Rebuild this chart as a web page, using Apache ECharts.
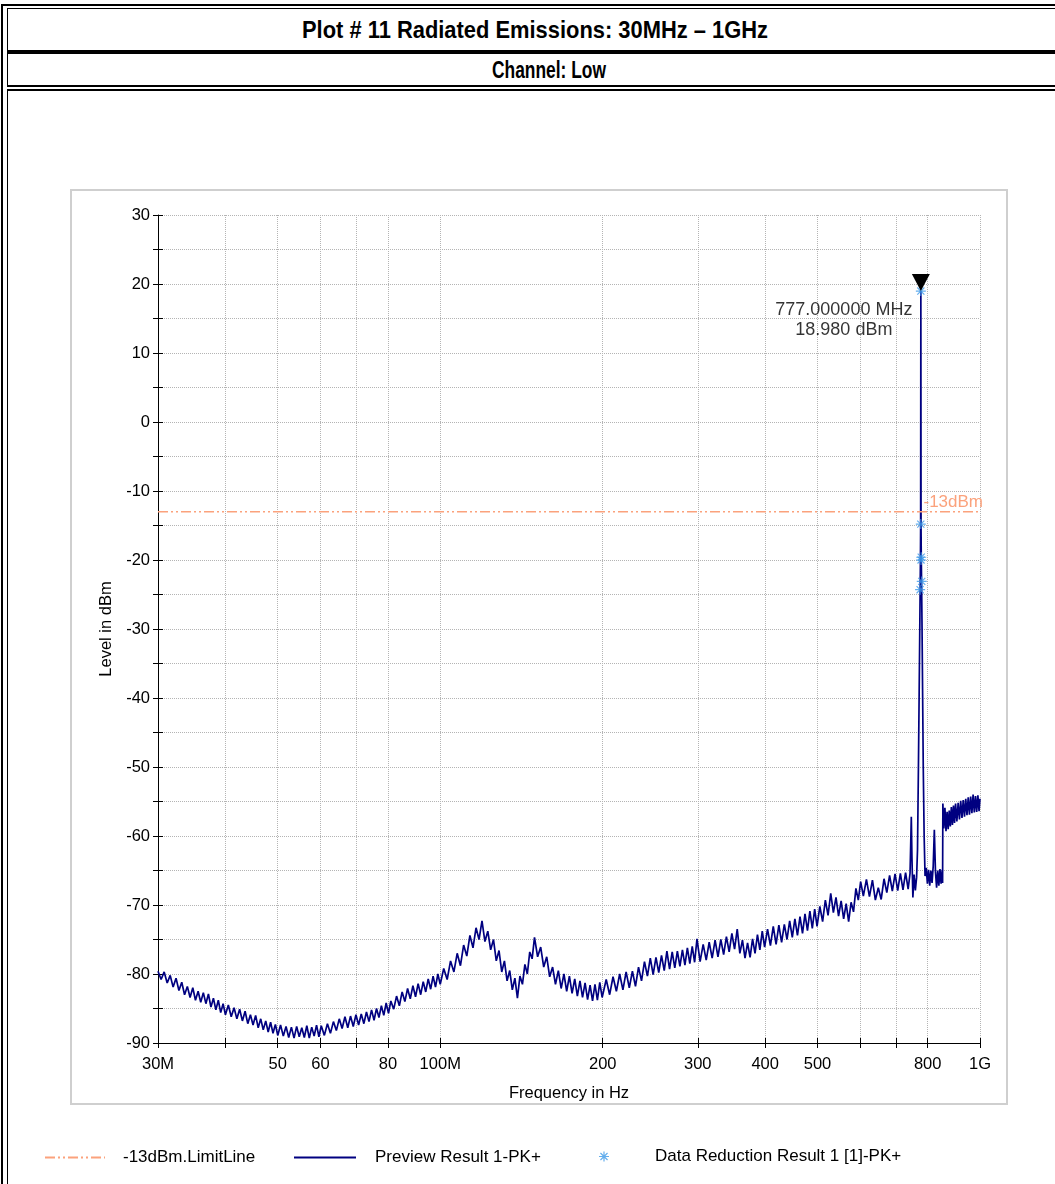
<!DOCTYPE html>
<html>
<head>
<meta charset="utf-8">
<script src="https://cdn.jsdelivr.net/npm/echarts@6/dist/echarts.min.js"></script>
<style>
  html, body { margin: 0; padding: 0; background: #fff; }
  #page { position: relative; width: 1055px; height: 1184px; overflow: hidden; background: #fff; font-family: "Liberation Sans", Arial, sans-serif; }
  .ln { position: absolute; background: #000; }
  .hdr { position: absolute; white-space: nowrap; font-family: "Liberation Sans Narrow", "Arial Narrow", "Liberation Sans", Arial, sans-serif; font-weight: bold; color: #000; font-size: 24px; line-height: 1; transform-origin: 0 50%; }
  #chart { position: absolute; left: 0; top: 0; width: 1055px; height: 1184px; }
</style>
</head>
<body>
<div id="page">
  <div class="ln" style="left:1px;top:4px;width:2px;height:1180px"></div>
  <div class="ln" style="left:1px;top:4px;width:1054px;height:2px"></div>
  <div class="ln" style="left:7px;top:8px;width:1px;height:77px"></div>
  <div class="ln" style="left:7px;top:8px;width:1048px;height:1px"></div>
  <div class="ln" style="left:7px;top:50px;width:1048px;height:4px"></div>
  <div class="ln" style="left:7px;top:85px;width:1048px;height:2px"></div>
  <div class="ln" style="left:7px;top:89px;width:1048px;height:2px"></div>
  <div class="ln" style="left:7px;top:89px;width:1px;height:1095px"></div>
  <span class="hdr" id="t1">Plot # 11 Radiated Emissions: 30MHz – 1GHz</span>
  <span class="hdr" id="t2">Channel: Low</span>
  <div id="chart"></div>
</div>
<script>
// ---------- header text ----------
const titleText = 'Plot # 11 Radiated Emissions: 30MHz – 1GHz';
const channelText = 'Channel: Low';
function placeHeader(id, left, right, centerY) {
  const el = document.getElementById(id);
  const r = el.getBoundingClientRect();
  const s = (right - left) / r.width;
  el.style.left = left + 'px';
  el.style.top = (centerY - r.height / 2) + 'px';
  el.style.transform = 'scaleX(' + s + ')';
}
placeHeader('t1', 302, 768, 30);
placeHeader('t2', 492, 606, 70);

// ---------- data ----------
// Preview Result 1-PK+ trace, [frequency MHz, level dBm]
const previewLow = [
  [30.0,-79.6],[30.4,-80.8],[30.8,-79.7],[31.2,-81.3],[31.6,-80.2],[32.0,-81.9],[32.4,-80.6],[32.8,-82.4],[33.2,-81.2],[33.6,-83.0],
  [34.0,-81.8],[34.4,-83.4],[34.8,-82.0],[35.2,-83.8],[35.6,-82.5],[36.0,-84.1],[36.4,-82.7],[36.8,-84.3],[37.2,-82.9],[37.6,-84.8],
  [38.0,-83.5],[38.4,-85.2],[38.8,-83.8],[39.2,-85.6],[39.6,-84.3],[40.0,-85.9],
  [40.5,-84.5],[41.0,-86.2],[41.5,-84.9],[42.0,-86.5],[42.5,-85.1],[43.0,-86.8],[43.5,-85.4],[44.0,-87.2],[44.5,-85.9],[45.0,-87.4],
  [45.5,-86.0],[46.0,-87.8],[46.5,-86.5],[47.0,-88.1],[47.5,-86.8],[48.0,-88.4],[48.5,-87.0],[49.0,-88.6],[49.5,-87.3],[50.0,-88.9],
  [50.6,-87.4],[51.2,-89.0],[51.8,-87.6],[52.4,-89.2],[53.0,-87.7],[53.6,-89.3],[54.2,-87.6],[54.8,-89.1],[55.4,-87.8],[56.0,-89.2],
  [56.6,-87.5],[57.2,-89.3],[57.8,-87.7],[58.4,-89.0],[59.0,-87.4],[59.6,-89.1],[60.2,-87.5],
  [61.0,-88.9],[61.8,-87.2],[62.6,-88.6],[63.4,-86.9],[64.2,-88.2],[65.0,-86.5],[65.8,-87.9],[66.6,-86.2],[67.4,-87.8],[68.2,-86.1],
  [69.0,-87.6],[69.8,-85.9],[70.6,-87.4],[71.4,-85.8],[72.2,-87.2],[73.0,-85.5],[73.8,-86.9],[74.6,-85.2],[75.4,-86.7],[76.2,-85.0],
  [77.0,-86.3],[77.8,-84.6],[78.6,-86.0],[79.4,-84.2],[80.2,-85.7],
  [81,-83.9],[82,-85.1],[83,-83.2],[84,-84.6],[85,-82.6],[86,-84.0],[87,-82.1],[88,-83.6],[89,-81.7],[90,-83.3],
  [91,-81.4],[92,-83.0],[93,-81.1],[94,-82.6],[95,-80.7],[96,-82.2],[97,-80.3],[98,-81.9],[99,-80.0],[100,-81.5]
];
const previewMid = [
  [101.5,-79.2],[103.0,-80.8],[104.5,-78.1],[106.0,-79.7],[107.5,-77.0],[109.0,-78.8],[110.5,-75.8],[112.0,-77.4],[113.5,-74.4],[115.0,-76.2],
  [116.5,-73.3],[118.0,-75.0],[119.5,-72.3],[121.0,-75.3],[122.5,-73.8],[124.0,-76.5],[125.5,-75.0],[127.0,-78.1],[128.5,-76.6],[130.0,-79.7],
  [131.5,-78.1],[133.0,-81.0],[134.5,-79.5],[136.0,-82.3],[137.5,-80.6],[139.0,-83.5],[140.5,-80.3],[142.0,-81.5],[143.5,-78.6],[145.0,-80.0],
  [146.5,-76.8],[148.0,-77.8],[149.5,-74.7],
  [151.5,-77.5],[153.5,-76.1],[155.5,-79.0],[157.5,-77.5],[159.5,-80.4],[161.5,-79.0],[163.5,-81.5],[165.5,-79.5],[167.5,-82.1],[169.5,-80.0],
  [171.5,-82.5],[173.5,-80.3],[175.5,-82.8],[177.5,-80.7],[179.5,-83.2],[181.5,-81.0],[183.5,-83.4],[185.5,-81.3],[187.5,-83.7],[189.5,-81.6],
  [191.5,-83.9],[193.5,-81.5],[195.5,-83.8],[197.5,-81.2],[199.5,-83.4],
  [203,-80.8],[206,-83.0],[209,-80.4],[212,-82.5],[215,-80.0],[218,-82.3],[221,-79.7],[224,-82.0],[227,-79.6],[230,-81.8],
  [233,-79.0],[236,-81.0],[239,-78.2],[242,-80.3],[245,-77.7],[248,-80.1],[251,-77.6],[254,-79.8],[257,-77.3],[260,-79.5],
  [263,-76.7],[266,-79.3],[269,-76.8],[272,-79.1],[275,-76.7],[278,-78.9],[281,-76.5],[284,-78.7],[287,-76.2],[290,-78.5],
  [293,-76.0],[296,-78.3],[299,-74.9]
];
const previewHigh = [
  [303,-78.2],[307,-75.7],[311,-78.0],[315,-75.4],[319,-77.7],[323,-75.1],[327,-77.5],[331,-75.0],[335,-77.2],[339,-74.6],
  [343,-76.8],[347,-74.1],[351,-76.4],[355,-73.5],[359,-77.0],[363,-75.1],[367,-77.7],[371,-75.5],[375,-77.6],[379,-74.9],
  [383,-77.0],[387,-74.3],[391,-76.5],[395,-73.8],[399,-76.1],
  [404,-73.5],[409,-75.9],[414,-73.1],[419,-75.7],[424,-72.9],[429,-75.4],[434,-72.8],[439,-75.0],[444,-72.3],[449,-74.7],
  [454,-72.0],[459,-74.4],[464,-71.7],[469,-74.1],[474,-71.3],[479,-73.7],[484,-70.9],[489,-73.4],[494,-70.6],[499,-73.1],
  [505,-70.2],[511,-72.4],[517,-69.3],[523,-71.5],[529,-68.3],[535,-71.1],[541,-68.9],[547,-71.6],[553,-69.4],[559,-72.0],
  [565,-69.8],[571,-72.4],[577,-69.6],[583,-71.0],[589,-67.6],[595,-69.3],[601,-66.6],
  [608,-68.7],[616,-66.3],[624,-68.8],[632,-66.4],[640,-69.3],[648,-67.5],[656,-69.2],[664,-66.2],[672,-68.2],[680,-65.7],
  [688,-68.0],[696,-65.5],[704,-67.9],[712,-65.4],[720,-67.8],[728,-65.3],[736,-67.7],[742,-65.4],[746,-57.2],[748,-63.0],
  [751,-68.9],[755,-65.6],[759,-67.9],[763,-66.0],
  [766,-62.0],[769,-50.0],[771,-41.0],[773,-32.0],[774.5,-25.0],[775.5,-20.5],[776.3,-15.0],[777.0,18.98],[777.7,-15.5],[778.5,-20.0],
  [779.5,-23.5],[781,-30.0],[783,-40.0],[785,-50.0],[788,-60.0],[791,-65.8],
  [795,-64.6],[799,-66.9],[803,-64.9],[807,-67.2],[811,-65.0],[815,-66.8],[819,-64.4],[823,-59.1],[827,-65.2],[831,-67.5],
  [835,-65.0],[839,-67.2],[843,-64.8],[847,-66.9],[851,-64.9],[852.5,-66.8],[853.5,-55.3],
  [857,-58.9],[861,-55.9],[865,-59.3],[869,-56.5],[873,-59.0],[877,-56.3],[881,-58.6],[885,-55.8],[889,-58.4],[893,-55.6],
  [897,-58.1],[901,-55.3],[906,-57.9],[911,-55.2],[916,-57.6],[921,-54.9],[926,-57.4],[931,-54.8],[936,-57.2],[941,-54.6],
  [946,-57.0],[951,-54.4],[956,-56.9],[961,-54.3],[966,-56.7],[971,-54.0],[976,-56.6],[981,-54.2],[986,-56.5],[991,-54.1],
  [996,-56.4],[1000,-54.6]
];
// Data Reduction Result 1 [1]-PK+ points
const reductionFreqMHz = [777.0, 776.8, 778.2, 777.6, 780.0, 774.5];
const reductionLevelDbm = [18.98, -14.8, -19.6, -20.0, -23.1, -24.3];
// Marker
const peakFreqMHz = 777.0;
const peakLevelDbm = 18.98;
// Limit line
const limitLevelDbm = -13;
const limitLabel = '-13dBm';
// Axes
const xMin = 30, xMax = 1000;
const yMin = -90, yMax = 30, yStep = 5;
const xTickValues = [30, 40, 50, 60, 70, 80, 100, 200, 300, 400, 500, 600, 700, 800, 1000];
const xLabelValues = [30, 50, 60, 80, 100, 200, 300, 400, 500, 800, 1000];
const xLabelText = { 30: '30M', 100: '100M', 1000: '1G' };

// ---------- chart ----------
const previewData = previewLow.concat(previewMid, previewHigh);
const reductionData = reductionFreqMHz.map((f, i) => [f, reductionLevelDbm[i]]);
const STAR = 'path://M-0.6,-5L0.6,-5L0.6,5L-0.6,5ZM-5,-0.6L5,-0.6L5,0.6L-5,0.6ZM3.96,3.12L3.12,3.96L-3.96,-3.12L-3.12,-3.96ZM3.12,-3.96L3.96,-3.12L-3.12,3.96L-3.96,3.12Z';
const FONT = '"Liberation Sans", Arial, sans-serif';
const NAVY = '#000080';
const ORANGE = '#FBA27C';
const STARBLUE = '#3d9ae8';
const GRIDC = '#b4b4b4';

const chart = echarts.init(document.getElementById('chart'), null, { renderer: 'canvas' });
const names = ['-13dBm.LimitLine', 'Preview Result 1-PK+', 'Data Reduction Result 1 [1]-PK+'];

const peakIndex = reductionFreqMHz.indexOf(peakFreqMHz);
const reductionItems = reductionData.map((d, i) => {
  if (i !== peakIndex) return d;
  return {
    value: d,
    label: {
      show: true,
      position: [-72, 34],
      align: 'center',
      verticalAlign: 'middle',
      color: '#000',
      fontSize: 18,
      lineHeight: 20,
      fontFamily: FONT,
      formatter: () => peakFreqMHz.toFixed(6) + ' MHz\n' + peakLevelDbm.toFixed(3) + ' dBm'
    }
  };
});

const legendText = { color: '#000', fontSize: 17, fontFamily: FONT };

const option = {
  animation: false,
  backgroundColor: 'transparent',
  textStyle: { fontFamily: FONT },
  graphic: [{
    type: 'rect', z: -10, silent: true,
    shape: { x: 71, y: 190, width: 936, height: 914 },
    style: { fill: 'none', stroke: '#cfcfcf', lineWidth: 2 }
  }],
  grid: { left: 158, top: 215, width: 822, height: 828, containLabel: false },
  legend: [
    { data: [names[0]], left: 44, top: 1149, padding: 0, itemWidth: 60, itemHeight: 14,
      itemStyle: { opacity: 0 },
      textStyle: Object.assign({ padding: [0, 0, 0, 13] }, legendText), selectedMode: false },
    { data: [names[1]], left: 293, top: 1149, padding: 0, itemWidth: 62, itemHeight: 14,
      itemStyle: { opacity: 0 },
      textStyle: Object.assign({ padding: [0, 0, 0, 14] }, legendText), selectedMode: false },
    { data: [{ name: names[2], icon: STAR }], left: 599, top: 1148, padding: 0, itemWidth: 10, itemHeight: 10,
      textStyle: Object.assign({ padding: [0, 0, 0, 41] }, legendText), selectedMode: false }
  ],
  xAxis: [{
    type: 'log', logBase: 10, min: xMin, max: xMax,
    name: 'Frequency in Hz', nameLocation: 'middle', nameGap: 42,
    nameTextStyle: { color: '#000', fontSize: 16.5, fontFamily: FONT },
    axisLine: { show: true, onZero: false, lineStyle: { color: '#000', width: 1 } },
    axisTick: { show: true, inside: false, length: 5, lineStyle: { color: '#000' }, customValues: xTickValues },
    axisLabel: { show: true, color: '#000', fontSize: 16.5, margin: 13, fontFamily: FONT, customValues: xLabelValues,
      formatter: v => { const r = Math.round(v); return xLabelText[r] || String(r); } },
    splitLine: { show: true, lineStyle: { color: GRIDC, type: 'dotted', width: 1 } },
    minorTick: { show: false }, minorSplitLine: { show: false }
  }, {
    type: 'log', logBase: 10, min: xMin, max: xMax, position: 'bottom', offset: 0,
    axisLine: { show: false, onZero: false },
    axisTick: { show: true, inside: true, length: 5, lineStyle: { color: '#000' }, customValues: xTickValues },
    axisLabel: { show: false },
    splitLine: { show: false }
  }],
  yAxis: [{
    type: 'value', min: yMin, max: yMax, interval: yStep,
    name: 'Level in dBm', nameLocation: 'middle', nameGap: 39, nameRotate: 90,
    nameTextStyle: { color: '#000', fontSize: 16.5, fontFamily: FONT },
    axisLine: { show: true, onZero: false, lineStyle: { color: '#000', width: 1 } },
    axisTick: { show: true, inside: false, length: 5, lineStyle: { color: '#000' } },
    axisLabel: { color: '#000', fontSize: 16.5, margin: 8, fontFamily: FONT,
      formatter: v => (v % 10 === 0 ? String(v) : '') },
    splitLine: { show: true, lineStyle: { color: GRIDC, type: 'dotted', width: 1 } }
  }, {
    type: 'value', min: yMin, max: yMax, interval: yStep, position: 'left', offset: 0,
    axisLine: { show: false, onZero: false },
    axisTick: { show: true, inside: true, length: 5, lineStyle: { color: '#000' } },
    axisLabel: { show: false },
    splitLine: { show: false }
  }],
  series: [
    {
      name: names[0], type: 'line', xAxisIndex: 0, yAxisIndex: 0,
      data: [[xMin, limitLevelDbm], [xMax, limitLevelDbm]],
      symbol: 'none', silent: true, z: 3,
      lineStyle: { color: ORANGE, width: 1.5, type: [10, 3, 2, 3, 2, 3] },
      itemStyle: { color: ORANGE },
      endLabel: { show: true, formatter: limitLabel, color: ORANGE, fontSize: 17, fontFamily: FONT,
        align: 'right', verticalAlign: 'bottom', distance: 0, offset: [3, -1] }
    },
    {
      name: names[1], type: 'line', xAxisIndex: 0, yAxisIndex: 0,
      data: previewData, symbol: 'none', showSymbol: false, sampling: false, silent: true, z: 2,
      lineStyle: { color: NAVY, width: 1.7 }, itemStyle: { color: NAVY }
    },
    {
      name: names[2], type: 'scatter', xAxisIndex: 0, yAxisIndex: 0,
      data: reductionItems, symbol: STAR, symbolSize: 10, silent: true, z: 4,
      itemStyle: { color: STARBLUE },
      markPoint: {
        silent: true,
        symbol: 'triangle', symbolRotate: 180, symbolSize: [18, 17], symbolOffset: [0, -8.5],
        itemStyle: { color: '#000' },
        label: { show: false },
        data: [{ coord: [peakFreqMHz, peakLevelDbm] }]
      }
    }
  ]
};
chart.setOption(option);
</script>
</body>
</html>
